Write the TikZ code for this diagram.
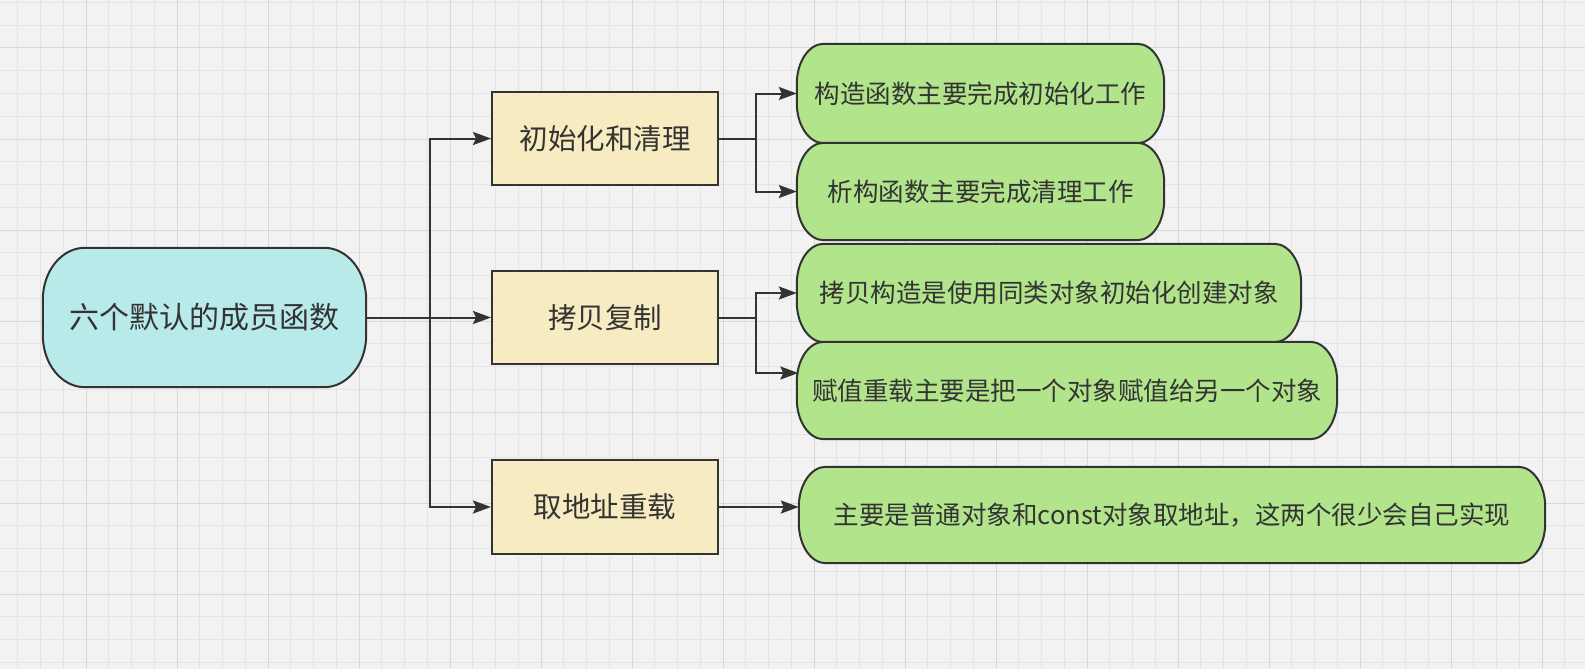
\documentclass[tikz,border=0pt]{standalone}
\usepackage{fontspec}
\newfontfamily\cjk{Noto Sans CJK SC}
\usetikzlibrary{arrows.meta,calc}
\definecolor{bgc}{HTML}{F2F2F2}
\definecolor{minorc}{HTML}{E4E4E4}
\definecolor{majorc}{HTML}{D8D8D8}
\definecolor{linec}{HTML}{333333}
\definecolor{txtc}{HTML}{333333}
\definecolor{cyanf}{HTML}{B9EAEA}
\definecolor{yelf}{HTML}{F7ECC1}
\definecolor{grnf}{HTML}{B2E48C}
\pgfdeclarelayer{gridlayer}
\pgfdeclarelayer{shapes}
\pgfsetlayers{gridlayer,shapes,main}
\newcommand{\rrbox}[4]{%
\begin{pgfonlayer}{shapes}
\draw[line width=2pt, draw=linec, fill=#4]
 ([xshift=#2]#1.north west) -- ([xshift=-#2]#1.north east)
 arc[start angle=90,end angle=0,x radius=#2,y radius=#3]
 -- ([yshift=#3]#1.south east)
 arc[start angle=0,end angle=-90,x radius=#2,y radius=#3]
 -- ([xshift=#2]#1.south west)
 arc[start angle=270,end angle=180,x radius=#2,y radius=#3]
 -- ([yshift=-#3]#1.north west)
 arc[start angle=180,end angle=90,x radius=#2,y radius=#3] -- cycle;
\end{pgfonlayer}}
\begin{document}
\begin{tikzpicture}[x=1pt,y=-1pt,
 conn/.style={line width=2pt, draw=linec, -{Stealth[length=18pt,width=13pt,inset=3pt]}},
 plain/.style={line width=2pt, draw=linec},
 txt/.style={inner sep=0pt, text=txtc, font=\cjk\fontsize{#1}{#1}\selectfont},
 yelbox/.style={txt=28.5, draw=linec, line width=2pt, fill=yelf, minimum width=226pt, minimum height=93pt},
 grnbox/.style={txt=25.5, minimum height=98pt}
]
\useasboundingbox (0,0) rectangle (1585,669);
\begin{pgfonlayer}{gridlayer}
\fill[bgc] (0,0) rectangle (1585,669);
\begin{scope}
\clip (0,0) rectangle (1585,669);
\foreach \i in {0,...,71} \draw[minorc, line width=1pt] ({-5+22.75*\i},0) -- ({-5+22.75*\i},669);
\foreach \i in {0,...,30} \draw[minorc, line width=1pt] (0,{2.5+22.75*\i}) -- (1585,{2.5+22.75*\i});
\foreach \i in {0,...,18} \draw[majorc, line width=1pt] ({-5+91*\i},0) -- ({-5+91*\i},669);
\foreach \i in {0,...,8} \draw[majorc, line width=1pt] (0,{-43+91*\i}) -- (1585,{-43+91*\i});
\end{scope}
\end{pgfonlayer}

% nodes
\node[txt=30, minimum width=323pt, minimum height=139pt] (root) at (204.5,317.5) {六个默认的成员函数};
\node[yelbox] (b1) at (605,138.5) {初始化和清理};
\node[yelbox] (b2) at (605,317.5) {拷贝复制};
\node[yelbox, minimum height=94pt] (b3) at (605,507) {取地址重载};
\node[grnbox, minimum width=367pt, minimum height=99pt] (g1) at (980.5,93.5) {构造函数主要完成初始化工作};
\node[grnbox, minimum width=367pt, minimum height=97pt] (g2) at (980.5,191.5) {析构函数主要完成清理工作};
\node[grnbox, minimum width=504pt] (g3) at (1049,293) {拷贝构造是使用同类对象初始化创建对象};
\node[grnbox, minimum width=540pt, minimum height=97pt] (g4) at (1067,390.5) {赋值重载主要是把一个对象赋值给另一个对象};
\node[grnbox, minimum width=746pt, minimum height=96pt] (g5) at (1172,515) {主要是普通对象和const对象取地址，这两个很少会自己实现};

\rrbox{root}{42pt}{52pt}{cyanf}
\rrbox{g1}{27pt}{40pt}{grnf}
\rrbox{g2}{27pt}{40pt}{grnf}
\rrbox{g3}{27pt}{40pt}{grnf}
\rrbox{g4}{27pt}{40pt}{grnf}
\rrbox{g5}{27pt}{40pt}{grnf}

% connectors
\coordinate (t) at (430,317.5);
\coordinate (j1) at (756,138.5);
\coordinate (j2) at (756,317.5);
\draw[conn] (root.east) -- (b2.west);
\draw[conn] (t) |- (b1.west);
\draw[conn] (t) |- (b3.west);
\draw[plain] (b1.east) -- (j1);
\draw[conn] (j1) |- (g1.west);
\draw[conn] (j1) |- (g2.west);
\draw[plain] (b2.east) -- (j2);
\draw[conn] (j2) |- (g3.west);
\draw[conn] (j2) |- ($(g4.west)+(1.5,-17.5)$);
\draw[conn] (b3.east) -- ($(g5.west)+(0,-8)$);
\end{tikzpicture}
\end{document}
